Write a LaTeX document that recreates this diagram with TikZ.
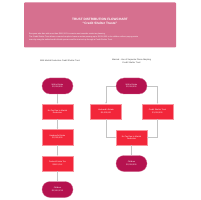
\documentclass[tikz,border=0pt]{standalone}
\usepackage{fontspec}
\setmainfont{Liberation Sans}
\usetikzlibrary{arrows.meta,positioning}
\definecolor{hdr}{HTML}{D6708F}
\definecolor{ovl}{HTML}{B5124F}
\definecolor{rct}{HTML}{F2263A}
\definecolor{lnc}{HTML}{C4C4C4}
\tikzset{
  x=1pt,y=-1pt,
  ovalbox/.style={draw=ovl!60!white,line width=0.3pt,fill=ovl,rounded corners=8pt,minimum width=31pt,minimum height=16pt,inner sep=0pt,text=white,align=center,font=\fontsize{2}{2.4}\selectfont},
  rectbox/.style={draw=rct!50!white,line width=0.25pt,fill=rct,minimum width=31pt,minimum height=15.5pt,inner sep=0pt,text=white,align=center,font=\fontsize{2}{2.4}\selectfont},
  conn/.style={draw=lnc,line width=0.35pt,-{Stealth[length=1.6pt,width=1.4pt]}},
  lbl/.style={align=center,font=\fontsize{2.1}{2.6}\selectfont,text=black!75}
}
\begin{document}
\begin{tikzpicture}
\useasboundingbox (0,0) rectangle (200,200);
\fill[white] (0,0) rectangle (200,200);
% header
\node[fill=hdr,minimum width=152pt,minimum height=45pt,inner sep=0pt,rounded corners=0.8pt] (hdr) at (100,25) {};
\node[text=white,align=center,font=\bfseries\fontsize{3.2}{4.6}\selectfont] (title) at (100,21.5) {TRUST DISTRIBUTION FLOWCHART\\``Credit Shelter Trusts''};
\node[text=white,align=left,anchor=north west,inner sep=0pt,font=\fontsize{1.9}{2.35}\selectfont] (body) at (29,33.2) {Everyone who dies with more than \$XXX,XXX in assets must consider estate tax planning.\\[0.5pt]
The Credit Shelter Trust allows a married couple to leave an estate passing up to \$1,000,000 to the children without paying estate\\
taxes by using the unified credit of both spouses and the trust set up through a Credit Shelter Trust.};
% column labels
\node[lbl] (lblL) at (60,61) {With Marital Deduction Credit Shelter Trust};
\node[lbl] (lblR) at (131.5,61.5) {Married - Use of Separate Plans Adopting\\Credit Shelter Trust};
% left column
\node[ovalbox] (L1) at (57.5,86) {Wife's Estate\\\$2,000,000};
\node[rectbox] (L2) at (57.5,111.5) {No Tax Due to Marital\\Deduction};
\node[rectbox] (L3) at (57.5,137) {Husband's Estate\\\$2,000,000};
\node[rectbox] (L4) at (57.5,163.5) {Federal Estate Tax\\\$XXX,XXX};
\node[ovalbox] (L5) at (57.5,189.5) {Children\\\$1,XXX,XXX};
\draw[conn] (L1) -- (L2);
\draw[conn] (L2) -- (L3);
\draw[conn] (L3) -- (L4);
\draw[conn] (L4) -- (L5);
% right column
\node[ovalbox] (R1) at (131.5,86) {Wife's Estate\\\$2,000,000};
\node[rectbox] (R2) at (106,111.5) {Husband's Estate\\\$1,000,000};
\node[rectbox] (R3) at (157.5,111.5) {Credit Shelter Trust\\\$1,000,000};
\node[rectbox] (R4) at (131.5,137.5) {No Tax Due to Marital\\Deduction};
\node[ovalbox] (R5) at (131.5,163.5) {Children\\\$2,000,000};
\draw[conn] (R1.west) -| (R2.north);
\draw[conn] (R1.east) -| (R3.north);
\draw[conn] (R2.south) |- (R4.west);
\draw[conn] (R3.south) |- (R4.east);
\draw[conn] (R4) -- (R5);
\end{tikzpicture}
\end{document}
